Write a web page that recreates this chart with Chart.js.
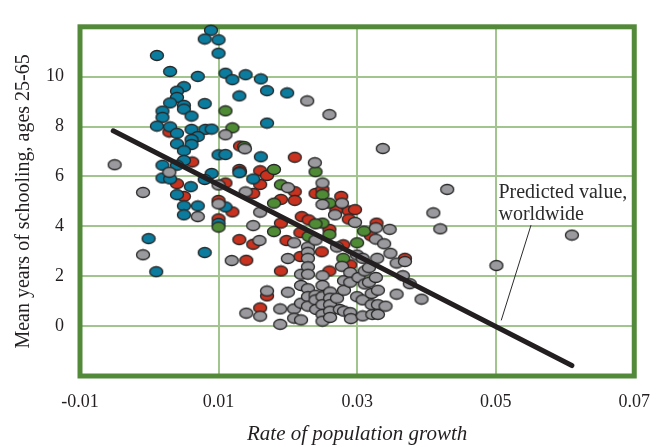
<!DOCTYPE html>
<html>
<head>
<meta charset="utf-8">
<script src="https://cdn.jsdelivr.net/npm/chart.js@4.4.0/dist/chart.umd.min.js"></script>
<style>
  html, body { margin: 0; padding: 0; background: #fff; }
</style>
</head>
<body>
<canvas id="myChart" width="665" height="447"></canvas>
<script>
// ejes
const xTicks = [-0.01, 0.01, 0.03, 0.05, 0.07]
const yTicks = [0, 2, 4, 6, 8, 10]
const tituloX = "Rate of population growth"
const tituloY = "Mean years of schooling, ages 25-65"
const notaTexto = ["Predicted value,", "worldwide"]

// recta de prediccion (extremos)
const tendenciaX = [-0.0052, 0.0610]
const tendenciaY = [7.83, -1.58]

// puntos por grupo [tasa, años]
const puntosGris = [
  [-0.0050, 6.47], [-0.0009, 5.36], [-0.0009, 2.86], [0.0029, 6.17], [0.0070, 4.39],
  [0.0100, 5.66], [0.0100, 4.90], [0.0110, 7.67], [0.0138, 7.11], [0.0139, 5.38],
  [0.0119, 2.63], [0.0150, 4.03], [0.0160, 4.57], [0.0159, 3.43], [0.0170, 1.41],
  [0.0140, 0.52], [0.0160, 0.40], [0.0189, 0.69], [0.0189, 0.07], [0.0200, 5.55],
  [0.0200, 2.71], [0.0200, 1.36], [0.0209, 3.34], [0.0209, 0.69], [0.0209, 0.32],
  [0.0219, 0.25], [0.0219, 2.08], [0.0219, 1.63], [0.0219, 0.92], [0.0228, 9.03],
  [0.0229, 3.17], [0.0229, 2.96], [0.0229, 2.72], [0.0229, 2.38], [0.0229, 2.08],
  [0.0229, 1.50], [0.0229, 1.18], [0.0229, 0.80], [0.0239, 6.55], [0.0240, 3.45],
  [0.0240, 1.24], [0.0240, 1.05], [0.0241, 0.67], [0.0250, 5.74], [0.0250, 4.88],
  [0.0250, 2.02], [0.0250, 1.63], [0.0250, 1.18], [0.0250, 0.86], [0.0250, 0.47],
  [0.0250, 0.20], [0.0260, 8.48], [0.0261, 1.37], [0.0261, 1.12], [0.0261, 0.86],
  [0.0261, 0.60], [0.0261, 0.35], [0.0268, 4.46], [0.0271, 3.17], [0.0271, 1.12],
  [0.0275, 0.67], [0.0278, 4.93], [0.0278, 2.40], [0.0281, 1.82], [0.0281, 1.44],
  [0.0281, 0.60], [0.0290, 2.15], [0.0290, 1.76], [0.0290, 0.54], [0.0291, 0.30],
  [0.0297, 4.16], [0.0300, 2.85], [0.0302, 1.95], [0.0300, 1.18], [0.0308, 2.72],
  [0.0308, 1.05], [0.0308, 0.41], [0.0311, 2.21], [0.0311, 1.69], [0.0317, 2.34],
  [0.0317, 1.76], [0.0321, 1.31], [0.0322, 0.47], [0.0321, 0.86], [0.0327, 3.94],
  [0.0327, 3.49], [0.0329, 2.72], [0.0327, 1.95], [0.0330, 1.44], [0.0330, 0.86],
  [0.0330, 0.47], [0.0337, 7.12], [0.0339, 3.30], [0.0341, 0.80], [0.0347, 3.88],
  [0.0348, 2.92], [0.0357, 2.53], [0.0357, 1.28], [0.0366, 2.02], [0.0369, 2.59],
  [0.0376, 1.70], [0.0393, 1.08], [0.0410, 4.54], [0.0420, 3.90], [0.0430, 5.48],
  [0.0501, 2.43], [0.0610, 3.65]
]

const puntosAzul = [
  [0.0089, 11.86], [0.0080, 11.51], [0.0100, 11.48], [0.0100, 10.94], [0.0011, 10.85],
  [0.0030, 10.21], [0.0070, 10.01], [0.0110, 10.14], [0.0120, 9.88], [0.0139, 10.08],
  [0.0161, 9.91], [0.0130, 9.23], [0.0170, 9.44], [0.0199, 9.35], [0.0050, 9.60],
  [0.0040, 9.42], [0.0040, 9.17], [0.0030, 8.95], [0.0050, 8.85], [0.0050, 8.70],
  [0.0080, 8.92], [0.0019, 8.62], [0.0019, 8.37], [0.0061, 8.42], [0.0011, 8.02],
  [0.0030, 7.99], [0.0061, 7.89], [0.0081, 7.89], [0.0090, 7.90], [0.0170, 8.14],
  [0.0040, 7.73], [0.0070, 7.60], [0.0061, 7.48], [0.0061, 7.28], [0.0040, 7.31],
  [0.0050, 7.03], [0.0100, 6.87], [0.0110, 6.88], [0.0161, 6.79], [0.0050, 6.64],
  [0.0019, 6.45], [0.0040, 6.45], [0.0130, 6.15], [0.0090, 6.12], [0.0019, 5.94],
  [0.0030, 5.90], [0.0080, 5.88], [0.0150, 5.90], [0.0060, 5.59], [0.0040, 5.27],
  [0.0050, 4.82], [0.0070, 4.82], [0.0050, 4.46], [0.0110, 4.78], [0.0100, 4.12],
  [-0.0001, 3.51], [0.0080, 2.95], [0.0010, 2.18]
]

const puntosVerde = [
  [0.0110, 8.63], [0.0120, 7.95], [0.0137, 7.20], [0.0180, 6.28], [0.0190, 5.67],
  [0.0180, 4.93], [0.0180, 3.79], [0.0100, 3.97], [0.0240, 6.19], [0.0250, 5.27],
  [0.0260, 4.93], [0.0250, 4.13], [0.0240, 4.10], [0.0230, 3.60], [0.0260, 3.68],
  [0.0300, 3.34], [0.0310, 3.81], [0.0280, 2.72]
]

const puntosRojo = [
  [0.0029, 7.78], [0.0062, 6.58], [0.0040, 5.71], [0.0050, 5.20], [0.0100, 4.30],
  [0.0100, 5.04], [0.0110, 5.74], [0.0120, 4.58], [0.0130, 6.28], [0.0130, 3.47],
  [0.0140, 2.64], [0.0150, 3.28], [0.0150, 5.32], [0.0160, 6.23], [0.0160, 5.68],
  [0.0170, 6.04], [0.0170, 1.21], [0.0160, 0.73], [0.0190, 2.21], [0.0190, 4.13],
  [0.0190, 5.08], [0.0210, 6.77], [0.0210, 5.39], [0.0210, 5.04], [0.0198, 3.43],
  [0.0218, 3.75], [0.0220, 4.39], [0.0218, 2.79], [0.0230, 4.26], [0.0240, 5.32],
  [0.0250, 5.48], [0.0249, 2.98], [0.0260, 2.21], [0.0260, 3.88], [0.0270, 4.65],
  [0.0277, 5.20], [0.0280, 3.26], [0.0288, 4.62], [0.0297, 4.67], [0.0288, 4.29],
  [0.0328, 4.13], [0.0290, 2.46], [0.0320, 3.62], [0.0369, 2.72], [0.0131, 7.22],
  [0.0131, 6.19]
]

// dibuja un punto eliptico con borde oscuro
function hacerPunto(color) {
  const c = document.createElement("canvas")
  c.width = 16
  c.height = 13
  const g = c.getContext("2d")
  g.beginPath()
  g.ellipse(8, 6.5, 6.5, 5.0, 0, 0, Math.PI * 2)
  g.fillStyle = color
  g.fill()
  g.lineWidth = 1.3
  g.strokeStyle = "#262626"
  g.stroke()
  return c
}

function aXY(lista) {
  return lista.map(p => ({ x: p[0], y: p[1] }))
}

function grupo(lista, color, orden) {
  return {
    type: "scatter",
    data: aXY(lista),
    pointStyle: hacerPunto(color),
    pointRadius: 6,
    order: orden,
    clip: false
  }
}

const serif = "'Liberation Serif', 'Times New Roman', serif"

// marco verde, nota y linea guia
const extras = {
  id: "extras",
  beforeDatasetsDraw(chart) {
    const { ctx, chartArea: a } = chart
    ctx.save()
    ctx.strokeStyle = "#538a3a"
    ctx.lineWidth = 5
    ctx.strokeRect(a.left, a.top, a.right - a.left, a.bottom - a.top)
    ctx.restore()
  },
  afterDatasetsDraw(chart) {
    const { ctx } = chart
    const x = chart.scales.x
    const y = chart.scales.y
    ctx.save()
    ctx.fillStyle = "#2b2b2b"
    ctx.font = "20px " + serif
    ctx.textBaseline = "alphabetic"
    ctx.fillText(notaTexto[0], x.getPixelForValue(0.0504), y.getPixelForValue(5.13))
    ctx.fillText(notaTexto[1], x.getPixelForValue(0.0504), y.getPixelForValue(4.27))
    ctx.strokeStyle = "#2b2b2b"
    ctx.lineWidth = 1
    ctx.beginPath()
    ctx.moveTo(x.getPixelForValue(0.0551), y.getPixelForValue(4.05))
    ctx.lineTo(x.getPixelForValue(0.0508), y.getPixelForValue(0.23))
    ctx.stroke()
    ctx.restore()
  }
}

const grafica = document.getElementById("myChart").getContext("2d")

const myChart = new Chart(grafica, {
  type: "scatter",
  data: {
    datasets: [
      {
        type: "line",
        data: tendenciaX.map((v, i) => ({ x: v, y: tendenciaY[i] })),
        borderColor: "#231f20",
        borderWidth: 5,
        borderCapStyle: "round",
        pointRadius: 0,
        fill: false,
        order: 0,
        clip: false
      },
      grupo(puntosGris, "#9a9a9e", 1),
      grupo(puntosVerde, "#4f8b35", 2),
      grupo(puntosAzul, "#0b7c9e", 3),
      grupo(puntosRojo, "#c8321f", 4)
    ]
  },
  options: {
    responsive: false,
    animation: false,
    layout: { padding: { top: 12, right: 21, left: 0, bottom: 0 } },
    plugins: {
      legend: { display: false },
      tooltip: { enabled: false }
    },
    scales: {
      x: {
        type: "linear",
        min: xTicks[0],
        max: xTicks[xTicks.length - 1],
        afterFit: s => { s.height = 71 },
        ticks: {
          stepSize: 0.02,
          padding: 15,
          color: "#231f20",
          font: { family: serif, size: 18 },
          callback: v => v.toFixed(2)
        },
        grid: { color: "#a2c58f", lineWidth: 2, drawTicks: false },
        border: { display: false },
        title: {
          display: true,
          text: tituloX,
          color: "#231f20",
          font: { family: serif, size: 21, style: "italic" },
          padding: { top: 0, bottom: 0 }
        }
      },
      y: {
        type: "linear",
        min: -2,
        max: 12,
        afterFit: s => { s.width = 80 },
        ticks: {
          stepSize: 2,
          padding: 16,
          color: "#231f20",
          font: { family: serif, size: 18 },
          callback: v => yTicks.includes(v) ? String(v) : ""
        },
        grid: { color: "#a2c58f", lineWidth: 2, drawTicks: false },
        border: { display: false },
        title: {
          display: true,
          text: tituloY,
          color: "#231f20",
          font: { family: serif, size: 20 },
          padding: { top: 12, bottom: 0 }
        }
      }
    }
  },
  plugins: [extras]
})
</script>
</body>
</html>
